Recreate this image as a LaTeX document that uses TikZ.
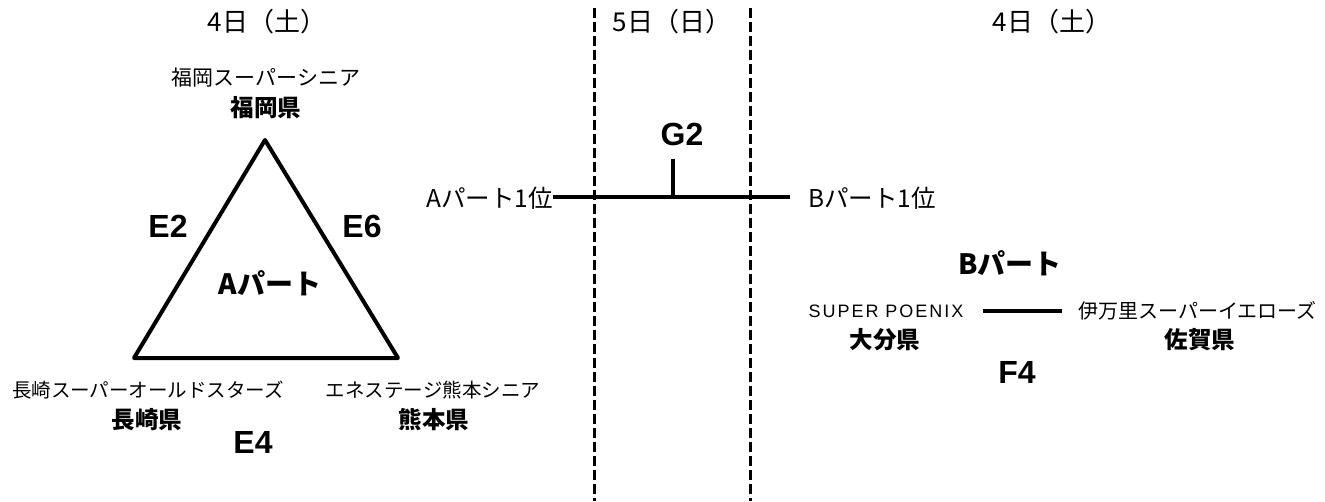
\documentclass[tikz,border=0pt]{standalone}
\usepackage{fontspec}
\setmainfont{Liberation Sans}
\newfontfamily\jp{Noto Sans CJK JP}
\begin{document}
\begin{tikzpicture}[x=1pt,y=-1pt,
  date/.style={font=\jp\fontsize{26}{30}\selectfont},
  team/.style={font=\jp\fontsize{19.5}{24}\selectfont},
  pref/.style={font=\jp\bfseries\fontsize{23.5}{27}\selectfont},
  game/.style={font=\bfseries\fontsize{32}{36}\selectfont},
  part/.style={font=\jp\bfseries\fontsize{28}{32}\selectfont},
  rank/.style={font=\jp\fontsize{24.5}{28}\selectfont},
  heavy/.style={line width=3.5pt},
  tri/.style={line width=4pt, line join=round},
  daysep/.style={line width=3pt, dash pattern=on 10pt off 4pt},
  inner sep=0pt]
\useasboundingbox (0,0) rectangle (1325,501);
% day separators
\coordinate (s1t) at (594,8);  \coordinate (s1b) at (594,501);
\coordinate (s2t) at (750,8);  \coordinate (s2b) at (750,501);
\draw[daysep] (s1t) -- (s1b);
\draw[daysep] (s2t) -- (s2b);
% dates
\node[date] (d1) at (267,22) {4日（土）};
\node[date] (d2) at (672,22) {5日（日）};
\node[date] (d3) at (1052,22) {4日（土）};
% A part
\node[team, font=\jp\fontsize{21}{25}\selectfont] (fkt) at (266,78) {福岡スーパーシニア};
\node[pref] (fkp) at (266,108) {福岡県};
\coordinate (apex) at (265,140);
\coordinate (bl) at (134,358);
\coordinate (br) at (398,358);
\draw[tri] (apex) -- (bl) -- (br) -- cycle;
\node[game] (e2) at (168,226) {E2};
\node[game] (e6) at (362,226) {E6};
\node[part] (ap) at (270,283) {Aパート};
\node[team] (ngt) at (148,390) {長崎スーパーオールドスターズ};
\node[pref] (ngp) at (147,420) {長崎県};
\node[game] (e4) at (253,442) {E4};
\node[team] (kmt) at (433,390) {エネステージ熊本シニア};
\node[pref] (kmp) at (434,420) {熊本県};
% final
\node[rank, anchor=east] (a1) at (553,198) {Aパート1位};
\node[rank, anchor=west] (b1) at (808,198) {Bパート1位};
\coordinate (fr) at (790,197);
\coordinate (tk) at (673,197);
\coordinate (tt) at (673,159);
\draw[heavy] (a1.east |- tk) -- (fr);
\draw[heavy] (tk) -- (tt);
\node[game] (g2) at (682,134) {G2};
% B part
\node[part] (bp) at (1010,263) {Bパート};
\node[font=\fontsize{18}{21}\selectfont] (spt) at (886,311) {\addfontfeature{LetterSpace=11}SUPER POENIX};
\node[team, font=\jp\fontsize{20}{24}\selectfont, anchor=west] (imt) at (1078,311) {伊万里スーパーイエローズ};
\coordinate (fl) at (983,311);
\coordinate (fre) at (1062,311);
\draw[heavy] (fl) -- (fre);
\node[pref] (oip) at (885,340) {大分県};
\node[pref] (sgp) at (1200,340) {佐賀県};
\node[game] (f4) at (1017,372) {F4};
\end{tikzpicture}
\end{document}
